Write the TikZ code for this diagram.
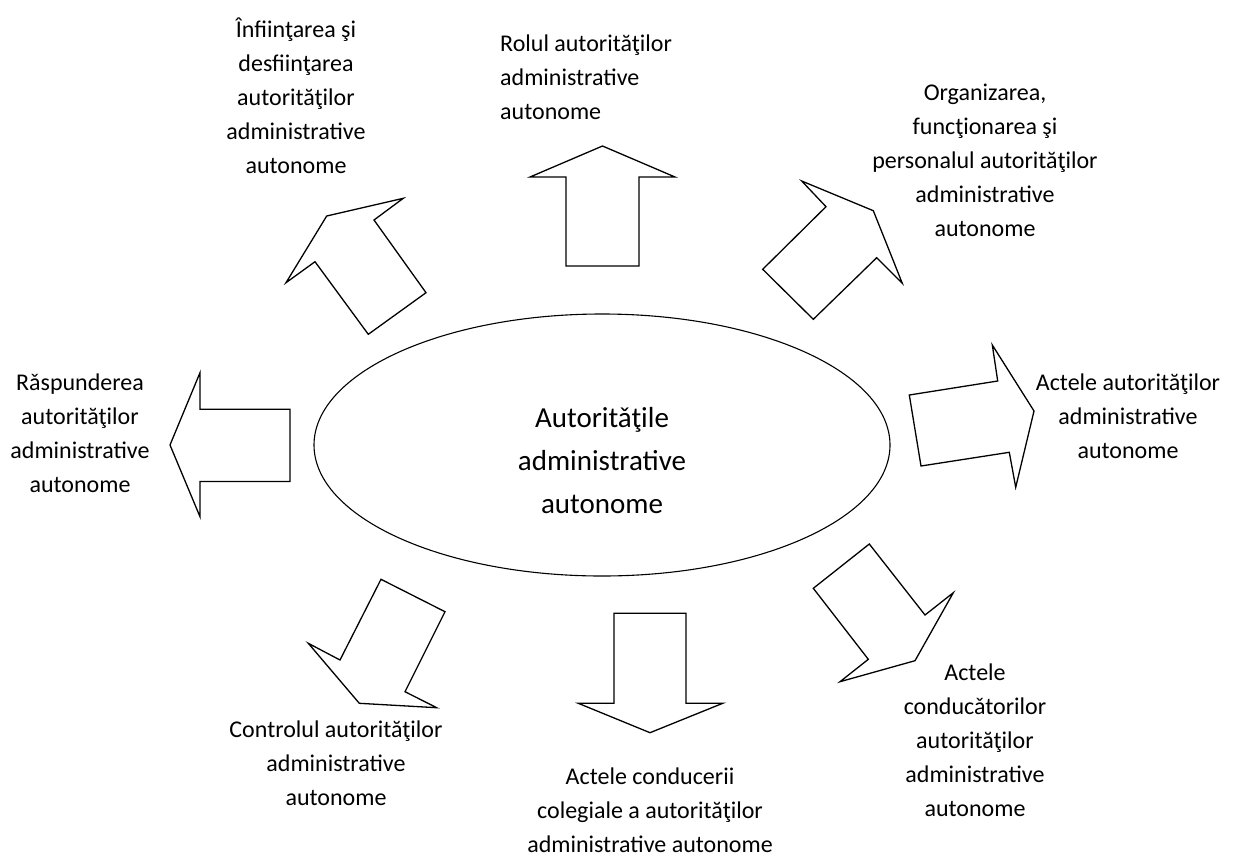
\documentclass[tikz,border=0pt]{standalone}
\usepackage{fontspec}
\setmainfont{Carlito}
\begin{document}
\begin{tikzpicture}[x=1pt,y=-1pt,
  blockarrow/.style={draw=black,line width=1.3pt,line join=miter},
  topic/.style={font=\fontsize{24}{34}\selectfont,align=center,inner sep=0pt},
  core/.style={font=\fontsize{29}{43}\selectfont,align=center,inner sep=0pt},
]
\useasboundingbox (0,0) rectangle (1239,857);

% central ellipse
\draw[line width=1.1pt] (602,445) ellipse [x radius=288, y radius=131];
\node[core] (centre) at (602,461) {Autoritǎţile\\administrative\\autonome};

% block arrows around the ellipse
\draw[blockarrow] (326.7,216) -- (403.3,198.3) -- (374,220) -- (426,292.7) -- (368.3,334.3) -- (315,261.7) -- (286,282.7) -- cycle;
\draw[blockarrow] (602.5,146) -- (675,177) -- (639,177) -- (639,266) -- (566,266) -- (566,177) -- (530,177) -- cycle;
\draw[blockarrow] (801.7,181) -- (873.3,210.7) -- (902.3,283.3) -- (876.7,257.7) -- (813.3,319.3) -- (762.7,269.3) -- (826,206.7) -- cycle;
\draw[blockarrow] (992.3,345) -- (1034,411) -- (1015.7,487.3) -- (1009.3,452.3) -- (921,466) -- (909.3,395) -- (997.7,381) -- cycle;
\draw[blockarrow] (200,372.7) -- (200,409.3) -- (290,409.3) -- (290,481.5) -- (200,481.5) -- (200,516.7) -- (170,445) -- cycle;
\draw[blockarrow] (381,579.3) -- (445,611.7) -- (405,691.7) -- (436.7,707.7) -- (359.3,703.3) -- (308.3,643.3) -- (340,660) -- cycle;
\draw[blockarrow] (614,613.3) -- (686,613.3) -- (686,703.3) -- (722.7,703.3) -- (650,732.7) -- (578.3,703.3) -- (614,703.3) -- cycle;
\draw[blockarrow] (869.3,544) -- (813.3,588.3) -- (868.3,659.3) -- (840,681.7) -- (915,660.7) -- (953.3,592.7) -- (925,615) -- cycle;

% topic labels
\node[topic] (infiintare) at (296,95.5) {Înfiinţarea şi\\desfiinţarea\\autorităţilor\\administrative\\autonome};
\node[topic,align=left,anchor=west] (rol) at (500,77) {Rolul autorităţilor\\administrative\\autonome};
\node[topic] (organizare) at (985,160.6) {Organizarea,\\funcţionarea şi\\personalul autorităţilor\\administrative\\autonome};
\node[topic] (acte) at (1128,416) {Actele autorităţilor\\administrative\\autonome};
\node[topic] (raspundere) at (80,433) {Rǎspunderea\\autorităţilor\\administrative\\autonome};
\node[topic] (control) at (336,763) {Controlul autorităţilor\\administrative\\autonome};
\node[topic] (colegiale) at (650,810) {Actele conducerii\\colegiale a autorităţilor\\administrative autonome};
\node[topic] (conducatori) at (975,740) {Actele\\conducǎtorilor\\autorităţilor\\administrative\\autonome};
\end{tikzpicture}
\end{document}
